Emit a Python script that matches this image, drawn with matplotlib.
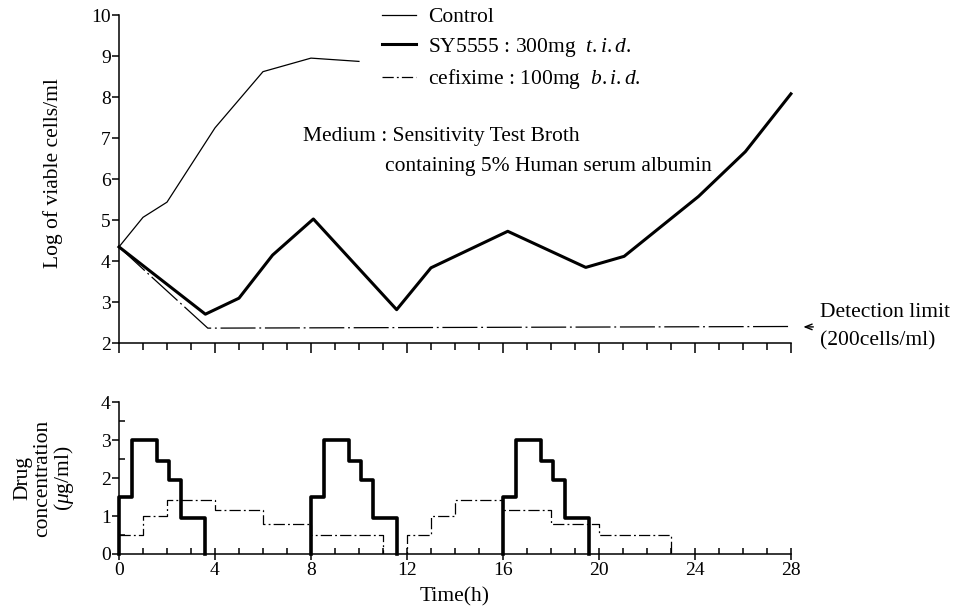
import matplotlib
matplotlib.use("Agg")
import matplotlib.pyplot as plt
from matplotlib.lines import Line2D
from matplotlib.ticker import MultipleLocator

plt.rcParams['font.family'] = ['Liberation Serif', 'DejaVu Serif']
plt.rcParams['mathtext.fontset'] = 'custom'
plt.rcParams['mathtext.rm'] = 'Liberation Serif'
plt.rcParams['mathtext.it'] = 'Liberation Serif:italic'

# viable counts (log cells/ml)
ctrl_t = [0, 1, 2, 4, 6, 8, 10]
ctrl_log = [4.35, 5.07, 5.44, 7.25, 8.62, 8.95, 8.87]

sy_t = [0, 3.6, 5.0, 6.4, 8.1, 11.57, 13.0, 16.2, 19.45, 21.05, 24.15, 26.1, 28.0]
sy_log = [4.35, 2.71, 3.1, 4.15, 5.03, 2.82, 3.84, 4.73, 3.85, 4.12, 5.58, 6.67, 8.08]

cef_t = [0, 1.3, 3.7, 28.0]
cef_log = [4.35, 3.65, 2.37, 2.41]

# simulated drug concentrations (ug/ml), one block per SY5555 dose
sy_dose_t = [0, 8, 16]
sy_step_t = [0, 0, 0.55, 1.57, 2.08, 2.58, 3.6]
sy_step_c = [0, 1.5, 3.0, 2.45, 1.95, 0.95, 0]

cef_conc_t = [0, 1, 2, 4, 6, 8, 11, 12, 13, 14, 16, 18, 20, 23]
cef_conc = [0.5, 1.0, 1.43, 1.15, 0.8, 0.5, 0, 0.5, 1.0, 1.43, 1.15, 0.8, 0.5, 0]

fig = plt.figure(figsize=(9.55, 6.11), dpi=100)
ax1 = fig.add_axes([0.1246, 0.4381, 0.7036, 0.5373])
ax2 = fig.add_axes([0.1246, 0.0933, 0.7036, 0.2483])

thin = 0.9
thick = 2.2
fs = 15.5
tick_fs = 14
cef_dash = (28, 3, 1.5, 3)
cef_dash_short = (9, 2.5, 1.5, 2.5)

# upper panel
ax1.plot(ctrl_t, ctrl_log, color='black', lw=thin)
ax1.plot(sy_t, sy_log, color='black', lw=thick, clip_on=False)
ax1.plot(cef_t, cef_log, color='black', lw=thin, dashes=cef_dash)

ax1.set_xlim(0, 28)
ax1.set_ylim(2, 10)
ax1.spines['top'].set_visible(False)
ax1.spines['right'].set_visible(False)
for s in ax1.spines.values():
    s.set_linewidth(1.1)
ax1.xaxis.set_major_locator(MultipleLocator(4))
ax1.xaxis.set_minor_locator(MultipleLocator(1))
ax1.yaxis.set_major_locator(MultipleLocator(1))
ax1.tick_params(axis='x', which='major', direction='out', length=7, width=1.1, labelbottom=False)
ax1.tick_params(axis='x', which='minor', direction='out', length=5, width=1.1)
ax1.tick_params(axis='y', direction='out', length=5, width=1.1, labelsize=tick_fs, pad=1)
ax1.set_ylabel('Log of viable cells/ml', fontsize=fs)
ax1.yaxis.set_label_coords(-0.083, 0.52)

handles = [
    Line2D([], [], color='black', lw=thin),
    Line2D([], [], color='black', lw=thick),
    Line2D([], [], color='black', lw=thin, dashes=cef_dash_short),
]
labels = ['Control',
          r'SY5555 : 300mg  $\mathit{t.i.d.}$',
          r'cefixime : 100mg  $\mathit{b.i.d.}$']
ax1.legend(handles, labels, loc='upper left', bbox_to_anchor=(382 / 955, 1 - 7 / 611),
           bbox_transform=fig.transFigure, frameon=False, fontsize=fs,
           handlelength=1.6, handletextpad=0.55, labelspacing=0.4,
           borderpad=0, borderaxespad=0)

ax1.text(7.65, 7.03, 'Medium : Sensitivity Test Broth', fontsize=fs, va='center')
ax1.text(11.1, 6.3, 'containing 5% Human serum albumin', fontsize=fs, va='center')

ax1.annotate('', xy=(28.4, 2.4), xytext=(29.05, 2.4),
             arrowprops=dict(arrowstyle='->,head_length=0.5,head_width=0.2',
                             lw=1.0, color='black'),
             annotation_clip=False)
ax1.text(29.2, 2.76, 'Detection limit', fontsize=fs, va='center', clip_on=False)
ax1.text(29.2, 2.06, '(200cells/ml)', fontsize=fs, va='center', clip_on=False)

# lower panel
ax2.step(cef_conc_t, cef_conc, where='post', color='black', lw=thin,
         dashes=cef_dash_short)
for t0 in sy_dose_t:
    ax2.step([t0 + t for t in sy_step_t], sy_step_c, where='post',
             color='black', lw=2.6, clip_on=False)

ax2.set_xlim(0, 28)
ax2.set_ylim(0, 4)
ax2.spines['top'].set_visible(False)
ax2.spines['right'].set_visible(False)
for s in ax2.spines.values():
    s.set_linewidth(1.1)
    s.set_zorder(3)
ax2.xaxis.set_major_locator(MultipleLocator(4))
ax2.xaxis.set_minor_locator(MultipleLocator(1))
ax2.yaxis.set_major_locator(MultipleLocator(1))
ax2.yaxis.set_minor_locator(MultipleLocator(0.5))
ax2.tick_params(axis='x', which='major', direction='inout', length=8, width=1.1,
                labelsize=tick_fs, pad=2)
ax2.tick_params(axis='x', which='minor', direction='in', length=4, width=1.1)
ax2.tick_params(axis='y', which='major', direction='out', length=5, width=1.1,
                labelsize=tick_fs, pad=1)
ax2.tick_params(axis='y', which='minor', direction='in', length=4, width=1.1)
ax2.set_xlabel('Time(h)', fontsize=fs, labelpad=6)
ax2.set_ylabel('Drug\nconcentration\n($\\mu$g/ml)', fontsize=fs, labelpad=18,
               linespacing=1.0)

fig.savefig('out.png', dpi=100)
